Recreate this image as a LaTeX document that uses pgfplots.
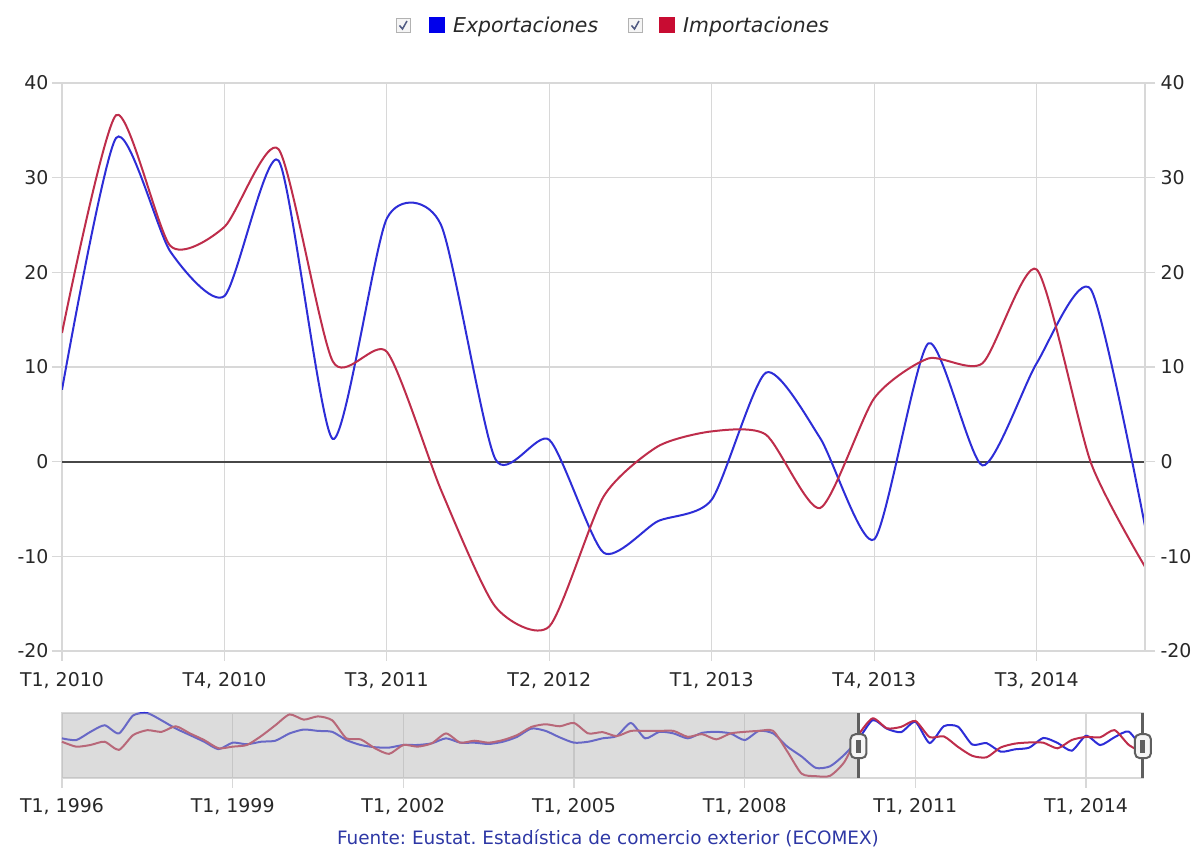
\documentclass[border=0pt]{standalone}
\usepackage{pgfplots}
\pgfplotsset{compat=1.18}
\usepackage{pgfplotstable}
\usepackage{fontspec}
\setmainfont{DejaVu Sans}
\frenchspacing
\definecolor{gridc}{RGB}{216,216,216}
\definecolor{txtc}{RGB}{40,40,40}
\definecolor{expc}{RGB}{45,45,215}
\definecolor{impc}{RGB}{190,45,75}
\definecolor{expsq}{RGB}{0,0,235}
\definecolor{impsq}{RGB}{200,12,50}
\definecolor{footc}{RGB}{45,55,165}
\definecolor{handc}{RGB}{95,95,95}
\definecolor{chkc}{RGB}{80,90,130}

\pgfplotstableread{
q exp imp
0 7.6 13.6
1 34.2 36.6
2 22.2 22.8
3 17.5 24.8
4 31.8 33.0
5 2.4 10.6
6 25.7 11.6
7 25.0 -3.0
8 0.3 -15.3
9 2.3 -17.4
10 -9.6 -3.7
11 -6.3 1.6
12 -4.0 3.2
13 9.4 2.85
14 2.5 -4.9
15 -8.2 6.7
16 12.5 10.9
17 -0.4 10.4
18 10.4 20.3
19 18.2 -0.1
20 -6.8 -11.1
}\maindata

\pgfplotstableread{
q exp imp
0 8.9 4.2
1 6.5 -2.6
2 17.9 -0.3
3 27 4.2
4 15.7 -7.1
5 40.6 13.4
6 43.8 20.2
7 33.8 17.9
8 22.5 25.6
9 13.4 15.7
10 4.2 6.5
11 -6.1 -4.8
12 2.9 -2.6
13 0.7 -0.3
14 4.2 12
15 5.6 27
16 15.7 42
17 21.1 34.8
18 19.2 39.3
19 17.9 33.8
20 6.5 8.9
21 -0.3 7.5
22 -3.4 -4.8
23 -3.9 -12.6
24 -0.3 -0.3
25 -0.3 -2.6
26 2 2
27 8.9 15.7
28 2.9 3
29 2.9 5.6
30 1.1 2.9
31 4.2 6.5
32 11 13.4
33 22.5 24.7
34 19.2 28.4
35 10.2 25.6
36 2.9 30.2
37 4.2 15.7
38 8.9 17.5
39 12 12
40 30.2 19.2
41 8.9 19.2
42 17.9 19.2
43 15.7 19.2
44 8.9 11
45 16.5 14.7
46 17.9 7.5
47 15.7 15.7
48 6.5 17.9
49 19.2 19.2
50 15.7 19.2
51 -2.6 -9.4
52 -16.2 -40
53 -32 -43.5
54 -29.8 -43
55 -13.9 -24
56 7.6 13.6
57 34.2 36.6
58 22.2 22.8
59 17.5 24.8
60 31.8 33.0
61 2.4 10.6
62 25.7 11.6
63 25.0 -3.0
64 0.3 -15.3
65 2.3 -17.4
66 -9.6 -3.7
67 -6.3 1.6
68 -4.0 3.2
69 9.4 2.85
70 2.5 -4.9
71 -8.2 6.7
72 12.5 10.9
73 -0.4 10.4
74 10.4 20.3
75 18.2 -0.1
76 -6.8 -11.1
}\navdata

\begin{document}
\begin{tikzpicture}[x=1bp,y=1bp]
\useasboundingbox (0,0) rectangle (1198,848);

% legend
\draw[gray!60, fill=gray!8] (396,815.5) rectangle (410,829.5);
\draw[chkc, line width=1.5bp] (399.5,822.5) -- (402.5,819) -- (407,827);
\fill[expsq] (428.5,815) rectangle (445,831);
\node[anchor=base west, inner sep=0, font=\fontsize{20.5}{24}\selectfont\itshape, text=txtc] at (453,815) {Exportaciones};
\draw[gray!60, fill=gray!8] (628,815.5) rectangle (642,829.5);
\draw[chkc, line width=1.5bp] (631.5,822.5) -- (634.5,819) -- (639,827);
\fill[impsq] (658.5,815) rectangle (675,831);
\node[anchor=base west, inner sep=0, font=\fontsize{20.5}{24}\selectfont\itshape, text=txtc] at (683,815) {Importaciones};

% main chart
\begin{axis}[
  at={(62bp,197bp)}, anchor=south west,
  scale only axis, width=1083bp, height=568bp,
  xmin=0, xmax=20, ymin=-20, ymax=40,
  axis line style={draw=gridc, line width=1.2bp},
  xtick={0,3,6,9,12,15,18},
  xticklabels={{T1, 2010},{T4, 2010},{T3, 2011},{T2, 2012},{T1, 2013},{T4, 2013},{T3, 2014}},
  ytick={-20,-10,0,10,20,30,40},
  yticklabels={-20,-10,0,10,20,30,40},
  xtick pos=bottom, ytick pos=left,
  tick align=outside, major tick length=10bp,
  every tick/.style={draw=gridc, line width=1.2bp},
  grid=major, major grid style={draw=gridc, line width=1.2bp},
  extra y ticks={0}, extra y tick labels={},
  extra y tick style={major grid style={draw=black!72, line width=2bp}, major tick length=0pt},
  ticklabel style={font=\fontsize{19}{22}\selectfont, text=txtc},
  xticklabel style={yshift=-8bp},
]
\addplot[expc, line width=2bp, smooth, tension=0.4, no markers] table[x=q,y=exp]{\maindata};
\addplot[impc, line width=2bp, smooth, tension=0.4, no markers] table[x=q,y=imp]{\maindata};
\end{axis}

\begin{axis}[
  at={(62bp,197bp)}, anchor=south west,
  scale only axis, width=1083bp, height=568bp,
  xmin=0, xmax=20, ymin=-20, ymax=40,
  axis x line=none, axis y line*=right,
  axis line style={draw=gridc, line width=1.2bp},
  ytick={-20,-10,0,10,20,30,40},
  yticklabels={-20,-10,0,10,20,30,40},
  tick align=outside, major tick length=10bp,
  every tick/.style={draw=gridc, line width=1.2bp},
  ticklabel style={font=\fontsize{19}{22}\selectfont, text=txtc},
  yticklabel style={xshift=2bp},
]
\end{axis}

% navigator
\begin{axis}[
  at={(62bp,70bp)}, anchor=south west,
  scale only axis, width=1081bp, height=65bp,
  xmin=0, xmax=76, ymin=-46, ymax=44,
  ytick=\empty,
  xtick={0,12,24,36,48,60,72},
  xticklabels={{T1, 1996},{T1, 1999},{T1, 2002},{T1, 2005},{T1, 2008},{T1, 2011},{T1, 2014}},
  xtick pos=bottom, tick align=outside, major tick length=10bp,
  every tick/.style={draw=gridc, line width=1.2bp},
  xmajorgrids, major grid style={draw=gridc, line width=1.2bp},
  axis line style={draw=gridc, line width=1.2bp},
  ticklabel style={font=\fontsize{19}{22}\selectfont, text=txtc},
  xticklabel style={yshift=-7bp},
  clip=false,
]
\addplot[expc, line width=2bp, smooth, tension=0.4, no markers] table[x=q,y=exp]{\navdata};
\addplot[impc, line width=2bp, smooth, tension=0.4, no markers] table[x=q,y=imp]{\navdata};
\fill[black!30, opacity=0.45] (axis cs:0,-46) rectangle (axis cs:56,44);
\draw[handc, line width=3bp] (axis cs:56,-46) -- (axis cs:56,44);
\draw[handc, line width=3bp] (axis cs:76,-46) -- (axis cs:76,44);
\node[draw=handc, line width=2bp, fill=gray!8, rounded corners=5bp, minimum width=16bp, minimum height=24bp, inner sep=0] at (axis cs:56,-2) {};
\node[fill=handc, minimum width=5bp, minimum height=13bp, inner sep=0] at (axis cs:56,-2) {};
\node[draw=handc, line width=2bp, fill=gray!8, rounded corners=5bp, minimum width=16bp, minimum height=24bp, inner sep=0] at (axis cs:76,-2) {};
\node[fill=handc, minimum width=5bp, minimum height=13bp, inner sep=0] at (axis cs:76,-2) {};
\end{axis}

% footer
\node[anchor=base, inner sep=0, font=\fontsize{18.5}{22}\selectfont, text=footc] at (608,3) {Fuente: Eustat. Estadística de comercio exterior (ECOMEX)};
\end{tikzpicture}
\end{document}
